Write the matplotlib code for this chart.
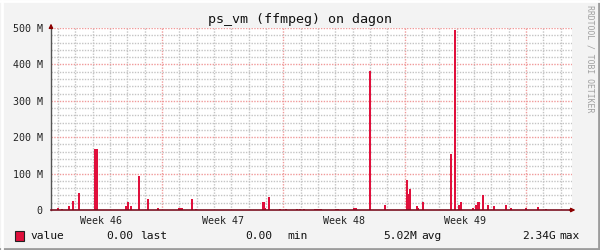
import numpy as np
import matplotlib
matplotlib.use('Agg')
import matplotlib.pyplot as plt
from matplotlib.lines import Line2D
from matplotlib.patches import Rectangle

plt.rcParams['font.family'] = 'DejaVu Sans Mono'

# spikes: position in days from graph start, value in M
spike_days = [0.40, 0.61, 1.04, 1.27, 1.64, 2.54, 2.65, 4.33, 4.44, 4.62,
              5.08, 5.60, 6.17, 7.36, 7.47, 7.56, 8.14, 8.37, 12.26, 12.35,
              12.58, 13.21, 13.56, 14.19, 14.37, 14.60, 15.26, 15.35, 15.45, 15.55,
              16.42, 16.53, 17.46, 17.60, 18.41, 19.27, 20.54, 20.60, 20.72, 21.12,
              21.18, 21.47, 23.08, 23.31, 23.54, 23.66, 24.35, 24.52, 24.66, 24.72,
              24.93, 25.22, 25.56, 26.25, 26.54, 27.41, 28.10, 28.56]
spike_vals = [6, 3, 11, 25, 47, 168, 168, 11, 22, 11,
              93, 30, 5, 5, 5, 5, 30, 2, 22, 5,
              36, 3, 4, 3, 3, 3, 3, 3, 3, 3,
              3, 3, 5, 5, 382, 14, 82, 44, 58, 11,
              5, 22, 154, 495, 15, 22, 5, 14, 22, 22,
              41, 14, 11, 14, 5, 5, 8, 3]

y_ticks = [0, 100, 200, 300, 400, 500]
y_labels = ['0', '100 M', '200 M', '300 M', '400 M', '500 M']
week_names = ['Week 46', 'Week 47', 'Week 48', 'Week 49']
first_week_start = 6.4
x_end = 30.06

legend_items = ['value', '0.00', 'last', '0.00', 'min', '5.02M', 'avg', '2.34G', 'max']
legend_px = [30, 106, 140, 245, 287, 383, 421, 522, 559]

red = '#E0103C'

fig = plt.figure(figsize=(6, 2.5), dpi=100, facecolor='#F3F3F3')
ax = fig.add_axes([51/600, 40/250, 521/600, 182/250])
ax.set_facecolor('white')
ax.set_xlim(0, x_end)
ax.set_ylim(0, 500)
for s in ax.spines.values():
    s.set_visible(False)

# grid
week_starts = [first_week_start + 7*k for k in range(4)]
for d in np.arange(first_week_start - 6, x_end, 1.0):
    if min(abs(d - w) for w in week_starts) < 0.01:
        continue
    ax.axvline(d, color='#C4C4C4', lw=1, ls=(0, (1, 1)), zorder=0)
for w in week_starts:
    ax.axvline(w, color='#F09A9A', lw=1, ls=(0, (1, 1)), zorder=0)
for v in range(20, 500, 20):
    if v % 100:
        ax.axhline(v, color='#C4C4C4', lw=1, ls=(0, (1, 1)), zorder=0)
for v in range(100, 501, 100):
    ax.axhline(v, color='#F09A9A', lw=1, ls=(0, (1, 1)), zorder=0)

ax.bar(spike_days, spike_vals, width=0.12, color=red, linewidth=0, zorder=2)

ax.set_yticks(y_ticks)
ax.set_yticklabels(y_labels, fontsize=7.2, color='#222222')
ax.tick_params(axis='y', length=0, pad=6)
ax.set_xticks([w - 3.5 for w in week_starts])
ax.set_xticklabels(week_names, fontsize=7.2, color='#222222')
ax.tick_params(axis='x', length=0, pad=4)

# axes with arrows
ax.plot([0, 0], [0, 500], color='#555555', lw=1, clip_on=False, zorder=3)
ax.plot([0, x_end], [0, 0], color='#7A1020', lw=1.2, clip_on=False, zorder=3)
ax.annotate('', xy=(0, 1.04), xytext=(0, 0.99), xycoords='axes fraction',
            arrowprops=dict(arrowstyle='-|>', color='#8B0000', lw=1, mutation_scale=6))
ax.annotate('', xy=(1.012, 0), xytext=(0.99, 0), xycoords='axes fraction',
            arrowprops=dict(arrowstyle='-|>', color='#8B0000', lw=1, mutation_scale=6))

fig.text(0.5, 1 - 19/250, 'ps_vm (ffmpeg) on dagon', ha='center', va='center',
         fontsize=9.6, color='#111111')
fig.text(590/600, 1 - 59/250, 'RRDTOOL / TOBI OETIKER', rotation=270, ha='center',
         va='center', fontsize=5.9, color='#A0A0A0')

fig.add_artist(Rectangle((15/600, 1 - 241/250), 9/600, 10/250, facecolor=red,
                         edgecolor='#222222', lw=0.8, transform=fig.transFigure))
for t, px in zip(legend_items, legend_px):
    fig.text(px/600, 1 - 236/250, t, ha='left', va='center', fontsize=8.1,
             color='#111111')

# 3d frame
fig.add_artist(Line2D([0, 1], [0.004, 0.004], transform=fig.transFigure, color='#9C9C9C', lw=2))
fig.add_artist(Line2D([0.9975, 0.9975], [0, 1], transform=fig.transFigure, color='#9C9C9C', lw=2))
fig.add_artist(Line2D([0, 1], [0.996, 0.996], transform=fig.transFigure, color='#FFFFFF', lw=2))
fig.add_artist(Line2D([0.0025, 0.0025], [0, 1], transform=fig.transFigure, color='#FFFFFF', lw=2))

fig.savefig('out.png', dpi=100, facecolor=fig.get_facecolor())
